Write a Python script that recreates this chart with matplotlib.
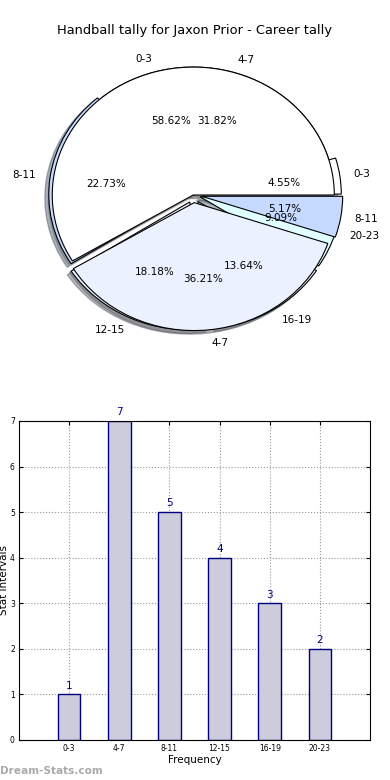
import numpy as np
import matplotlib
matplotlib.use("Agg")
import matplotlib.pyplot as plt

# tally data
intervals = ["0-3", "4-7", "8-11", "12-15", "16-19", "20-23"]
counts = [1, 7, 5, 4, 3, 2]

# second (career) tally shown on top in the pie
outer_labels = ["0-3", "4-7", "8-11"]
outer_counts = [34, 21, 3]

title = "Handball tally for Jaxon Prior - Career tally"

fig = plt.figure(figsize=(3.9, 7.8), dpi=100)

# pie part - old style, not equal aspect
ax1 = fig.add_axes([0.0436, 0.545, 0.904, 0.41])
ax1.set_xlim(-1.25, 1.25)
ax1.set_ylim(-1.25, 1.25)
ax1.set_autoscale_on(False)

shad = dict(ox=-0.02, oy=-0.02, shade=0.55)
back_cols = ["#ffffff", "#ffffff", "#c6d9ff", "#ebf1ff", "#ebf1ff", "#e0ffff"]
w, t, at = ax1.pie(counts, labels=intervals, colors=back_cols,
                   explode=[0.05, 0, 0.025, 0.06, 0.06, 0.05],
                   autopct="%1.2f%%", shadow=shad, startangle=0,
                   textprops={"fontsize": 7.5}, frame=True)
front_cols = ["#ffffff", "#ebf1ff", "#c6d9ff"]
w2, t2, at2 = ax1.pie(outer_counts, labels=outer_labels, colors=front_cols,
                      explode=[0, 0.06, 0.06],
                      autopct="%1.2f%%", shadow=shad, startangle=0,
                      textprops={"fontsize": 7.5}, frame=True)
for p in w + w2:
    p.set_edgecolor("black")
    p.set_linewidth(0.8)
ax1.set_xlim(-1.25, 1.25)
ax1.set_ylim(-1.25, 1.25)
ax1.set_aspect("auto")
ax1.axis("off")
fig.text(0.5, 0.961, title, ha="center", va="center", fontsize=9.4)

# bar part
ax2 = fig.add_axes([0.0487, 0.0513, 0.9, 0.409])
x = np.arange(len(intervals))
ax2.bar(x, counts, width=0.45, color="#ccccdd", edgecolor="#000080", linewidth=1, zorder=2)
for xi, c in zip(x, counts):
    ax2.text(xi, c + 0.08, str(c), ha="center", va="bottom", color="#000080", fontsize=7.5)
ax2.set_xlim(-1, 6)
ax2.set_ylim(0, 7)
ax2.set_xticks(x)
ax2.set_xticklabels(intervals)
ax2.set_yticks(range(8))
ax2.tick_params(labelsize=5.5, direction="in", top=True, right=True, length=3, pad=3)
ax2.grid(True, linestyle=":", color="#999999", linewidth=0.8, zorder=0)
ax2.set_axisbelow(True)
ax2.set_xlabel("Frequency", fontsize=7.5, labelpad=1)
ax2.set_ylabel("Stat Intervals", fontsize=7.5, labelpad=0.5)

fig.text(0.0, 0.012, "Dream-Stats.com", color="#aaaaaa", fontsize=7.6, fontweight="bold",
         ha="left", va="center")

fig.savefig("out.png", dpi=100)
